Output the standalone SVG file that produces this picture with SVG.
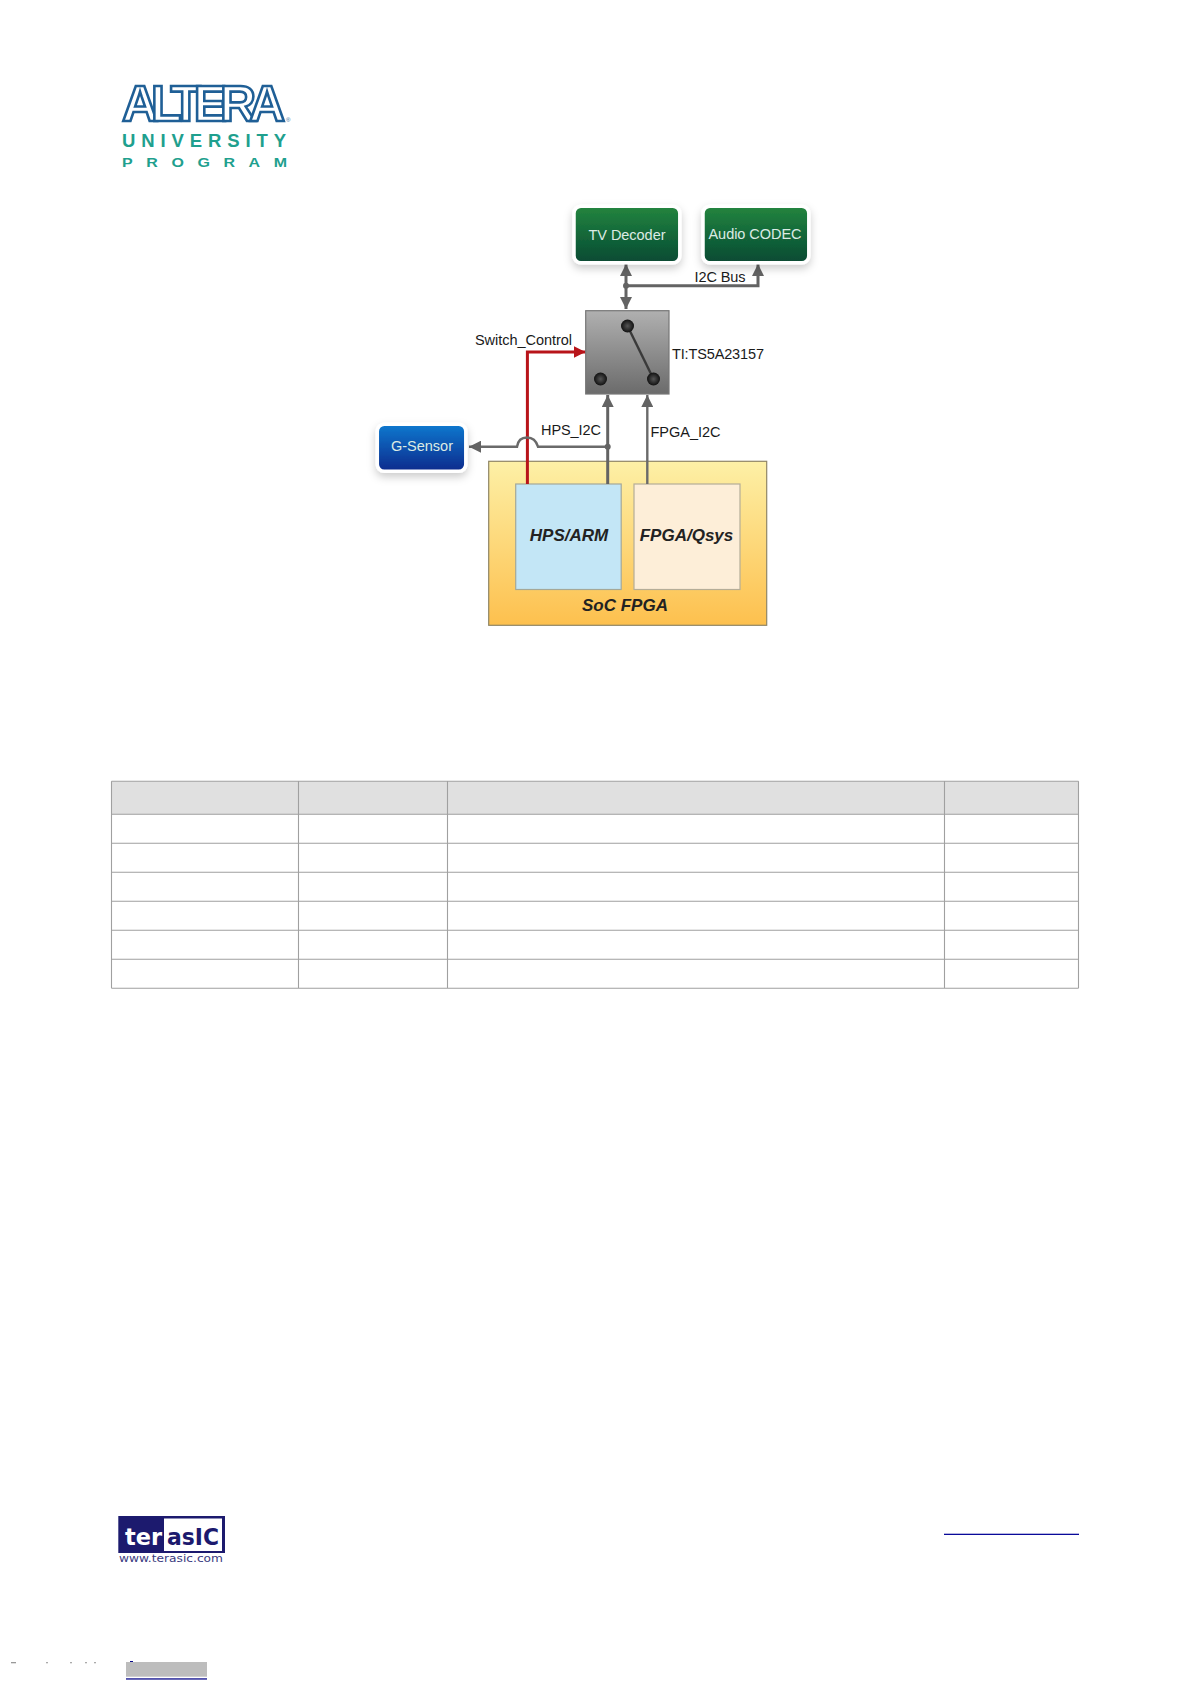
<svg xmlns="http://www.w3.org/2000/svg" width="1191" height="1684" viewBox="0 0 1191 1684">
<style>
text{font-family:"Liberation Sans",Arial,sans-serif}
.lbl{font-size:14.5px;fill:#1a1a1a}
.nodet{font-size:14.5px;fill:#dcebe4;text-anchor:middle}
.big{font-size:17px;font-weight:bold;font-style:italic;fill:#222;text-anchor:middle}
.conn{fill:none;stroke:#636363;stroke-width:3}
.red{fill:none;stroke:#b8141a;stroke-width:3}
.thin{fill:none;stroke:#6a6a6a;stroke-width:2.4}
.grid{stroke:#a0a0a0;stroke-width:1.1;fill:none}
.node{stroke:#fff;stroke-width:3.5;filter:url(#sh)}
.tera{font-family:"DejaVu Sans",sans-serif;font-weight:bold;font-size:23px}
</style>
<defs>
<linearGradient id="gg" x1="0" y1="0" x2="0" y2="1"><stop offset="0" stop-color="#23853f"/><stop offset="1" stop-color="#064a33"/></linearGradient>
<linearGradient id="gb" x1="0" y1="0" x2="0" y2="1"><stop offset="0" stop-color="#0b79cf"/><stop offset="1" stop-color="#0c2a8c"/></linearGradient>
<linearGradient id="gs" x1="0" y1="0" x2="0" y2="1"><stop offset="0" stop-color="#b0b0b0"/><stop offset="1" stop-color="#6b6b6b"/></linearGradient>
<linearGradient id="gy" x1="0" y1="0" x2="0" y2="1"><stop offset="0" stop-color="#fdf0a6"/><stop offset="1" stop-color="#fdc04e"/></linearGradient>
<radialGradient id="gk"><stop offset="0" stop-color="#555"/><stop offset="1" stop-color="#111"/></radialGradient>
<filter id="sh" x="-20%" y="-25%" width="140%" height="160%"><feDropShadow dx="0" dy="4" stdDeviation="4" flood-color="#000" flood-opacity=".2"/></filter>
<marker id="ag" markerUnits="userSpaceOnUse" markerWidth="13" markerHeight="12" refX="12" refY="6" orient="auto-start-reverse"><path d="M0 0L12 6L0 12Z" fill="#636363"/></marker>
<marker id="ar" markerUnits="userSpaceOnUse" markerWidth="13" markerHeight="12" refX="12" refY="6" orient="auto"><path d="M0 0L12 6L0 12Z" fill="#b8141a"/></marker>
</defs>
<rect width="1191" height="1684" fill="#fff"/>

<g id="altera-logo">
<text x="122" y="121" font-size="50" font-weight="bold" textLength="163" fill="#fff" stroke="#1f5f96" stroke-width="2.6">ALTERA</text>
<text x="286" y="122" font-size="6" fill="#2a6a9a">®</text>
<text x="122" y="147.3" font-size="18.5" font-weight="bold" fill="#1fa08e" textLength="164">UNIVERSITY</text>
<text transform="translate(122,167.3) scale(1.27,1)" x="0" y="0" font-size="12.6" font-weight="bold" fill="#1fa08e" textLength="130">PROGRAM</text>
</g>

<g id="soc-fpga"><rect x="488.7" y="461.3" width="278" height="164" fill="url(#gy)" stroke="#8f8565" stroke-width="1.2"/><text class="big" x="625" y="611">SoC FPGA</text></g>
<g id="hps-arm"><rect x="515.7" y="484" width="105.5" height="105.5" fill="#c3e6f6" stroke="#a5a898" stroke-width="1.2"/><text class="big" x="569" y="541">HPS/ARM</text></g>
<g id="fpga-qsys"><rect x="634" y="484" width="106" height="105.5" fill="#fdeed8" stroke="#b5ad98" stroke-width="1.2"/><text class="big" x="686.5" y="541">FPGA/Qsys</text></g>

<g id="connectors">
<path class="conn" d="M626 264V309" marker-start="url(#ag)" marker-end="url(#ag)"/>
<path class="conn" d="M626 285.7H758V264" marker-end="url(#ag)"/>
<circle cx="626" cy="285.7" r="3" fill="#636363"/>
<path class="red" d="M527.4 484V352H585.5" marker-end="url(#ar)"/>
<path class="conn" d="M607.7 484V395" marker-end="url(#ag)"/>
<path class="thin" d="M647.3 484V395" marker-end="url(#ag)"/>
<path class="thin" d="M607.7 446.7H538C536 440 532 437.5 527 437.5C522 437.5 518 440 517 446.7H469" marker-end="url(#ag)"/>
<circle cx="607.7" cy="446.7" r="3" fill="#636363"/>
</g>

<g id="tv-decoder"><rect class="node" x="574" y="206.3" width="105.8" height="56.4" rx="7" fill="url(#gg)"/><text class="nodet" x="627" y="240" textLength="77">TV Decoder</text></g>
<g id="audio-codec"><rect class="node" x="703" y="206.3" width="105.8" height="56.4" rx="7" fill="url(#gg)"/><text class="nodet" x="755" y="239" textLength="93">Audio CODEC</text></g>
<g id="g-sensor"><rect class="node" x="377.3" y="424.3" width="88.5" height="47" rx="7" fill="url(#gb)"/><text class="nodet" x="422" y="451" textLength="62">G-Sensor</text></g>

<g id="switch">
<rect x="585.7" y="310.7" width="83.3" height="83.3" fill="url(#gs)" stroke="#777" stroke-width="1.2"/>
<path d="M627.5 326L653.5 379" stroke="#3a3a3a" stroke-width="2.4"/>
<circle cx="627.5" cy="326" r="6.5" fill="url(#gk)"/><circle cx="600.5" cy="379" r="6.5" fill="url(#gk)"/><circle cx="653.5" cy="379" r="6.5" fill="url(#gk)"/>
</g>

<g id="labels">
<text class="lbl" x="475" y="345" textLength="97">Switch_Control</text>
<text class="lbl" x="672" y="359" textLength="92">TI:TS5A23157</text>
<text class="lbl" x="694.5" y="282" textLength="51">I2C Bus</text>
<text class="lbl" x="541" y="435" textLength="60">HPS_I2C</text>
<text class="lbl" x="650.5" y="437" textLength="70">FPGA_I2C</text>
</g>

<g id="table">
<rect x="111.5" y="781.3" width="967" height="33" fill="#e0e0e0"/>
<path class="grid" d="M111.5 781.3H1078.5M111.5 814.3H1078.5M111.5 843.3H1078.5M111.5 872.3H1078.5M111.5 901.3H1078.5M111.5 930.3H1078.5M111.5 959.3H1078.5M111.5 988.3H1078.5M111.5 781.3V988.3M298.5 781.3V988.3M447.5 781.3V988.3M944.5 781.3V988.3M1078.5 781.3V988.3"/>
</g>

<g id="terasic-logo">
<rect x="118.3" y="1516" width="106.7" height="37" fill="#1c1a6e"/>
<rect x="164" y="1518.5" width="58" height="32.5" fill="#fff"/>
<text class="tera" x="125" y="1545" fill="#fff" textLength="37" lengthAdjust="spacingAndGlyphs">ter</text>
<text class="tera" x="167" y="1545" fill="#1c1a6e" textLength="52" lengthAdjust="spacingAndGlyphs">asIC</text>
<text x="119" y="1562" font-size="10.5" fill="#3a3a80" textLength="104" lengthAdjust="spacingAndGlyphs" style="font-family:'DejaVu Sans',sans-serif">www.terasic.com</text>
</g>

<g id="footer">
<rect x="944" y="1533.7" width="135" height="1.3" fill="#0a0a9a"/>
<rect x="126" y="1662" width="81" height="14.7" fill="#bdbdbd"/>
<rect x="126" y="1678.3" width="81" height="1.3" fill="#0a0a8a"/>
<rect x="130" y="1661" width="3" height="1" fill="#0a0a8a"/>
<rect x="11" y="1662" width="5" height="1.3" fill="#999"/>
<rect x="46" y="1662" width="2" height="1.3" fill="#aaa"/>
<rect x="70" y="1662" width="2" height="1.3" fill="#aaa"/>
<rect x="85" y="1662" width="2" height="1.3" fill="#aaa"/>
<rect x="94" y="1662" width="2" height="1.3" fill="#aaa"/>
</g>
</svg>
